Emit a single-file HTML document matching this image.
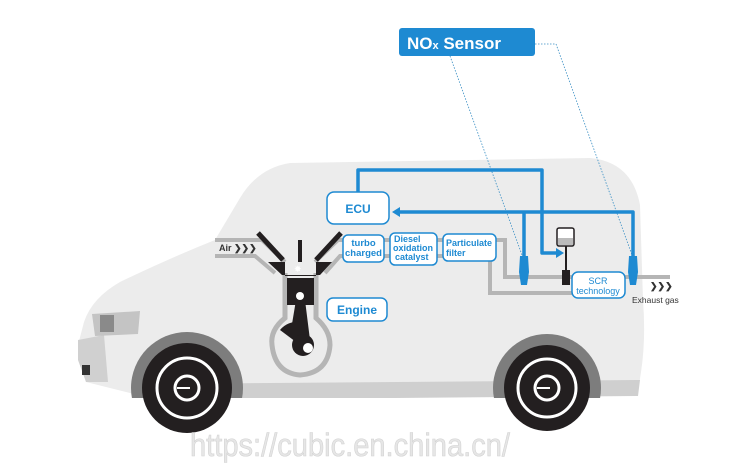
<!DOCTYPE html>
<html><head><meta charset="utf-8"><style>
html,body{margin:0;padding:0;background:#fff;}
svg{display:block;}
text{font-family:"Liberation Sans",sans-serif;}
</style></head><body>
<svg width="750" height="469" viewBox="0 0 750 469" xmlns="http://www.w3.org/2000/svg">
<!-- car body -->
<path d="M86,382 L78,345 L84,322 Q92,298 120,282 Q170,258 215,240 L240,198 Q258,168 290,163 L590,158 Q632,162 640,205 L643,300 Q646,340 641,372 L638,392 L150,398 Z" fill="#ececec"/>
<!-- bottom band -->
<path d="M150,384 L640,380 L638,396 L150,400 Z" fill="#cfcfcf"/>
<!-- bumper -->
<path d="M78,340 L104,335 L108,382 L86,382 L78,360 Z" fill="#d0d0d0"/>
<rect x="82" y="365" width="8" height="10" fill="#333"/>
<!-- headlight -->
<path d="M92,314 L140,311 L138,334 L95,336 Z" fill="#c4c4c4"/>
<rect x="100" y="315" width="14" height="17" fill="#8a8a8a"/>
<!-- wheel arches -->
<circle cx="187" cy="388" r="56" fill="#7d7d7d"/>
<circle cx="547" cy="388" r="54" fill="#7d7d7d"/>
<rect x="110" y="398" width="500" height="71" fill="#fff"/>
<!-- wheels -->
<g>
<circle cx="187" cy="388" r="45" fill="#231f20"/>
<circle cx="187" cy="388" r="30" fill="none" stroke="#fff" stroke-width="3"/>
<circle cx="187" cy="388" r="12" fill="none" stroke="#fff" stroke-width="3"/>
<line x1="177" y1="388" x2="190" y2="388" stroke="#fff" stroke-width="2"/>
<circle cx="547" cy="388" r="43" fill="#231f20"/>
<circle cx="547" cy="388" r="29" fill="none" stroke="#fff" stroke-width="3"/>
<circle cx="547" cy="388" r="12" fill="none" stroke="#fff" stroke-width="3"/>
<line x1="537" y1="388" x2="550" y2="388" stroke="#fff" stroke-width="2"/>
</g>
<!-- watermark -->
<text x="190" y="456" font-size="32" fill="#e6e6e6" stroke="#d2d2d2" stroke-width="0.6" textLength="320" lengthAdjust="spacingAndGlyphs">https://cubic.en.china.cn/</text>
<!-- pipes -->
<g fill="none" stroke="#b5b5b5" stroke-width="4">
<path d="M215,240 L262,240 L285,262"/>
<path d="M215,256 L255,256 L275,273"/>
<path d="M315,262 L338,240 L500,240 L505,240 L505,277 L670,277"/>
<path d="M325,273 L340,256 L490,256 L490,293 L572,293"/>
</g>
<!-- engine -->
<path d="M285,273 L285,318 Q270,330 272,345 Q275,373 300,375 Q328,373 330,345 Q330,330 316,318 L316,273" fill="none" stroke="#b5b5b5" stroke-width="5"/>
<path d="M268,262 L285,262 L285,276 L316,276 L316,262 L332,262 L320,275 L282,275 Z" fill="#231f20"/>
<rect x="287" y="278" width="27" height="27" fill="#231f20"/>
<circle cx="300" cy="296" r="4" fill="#fff"/>
<path d="M296,300 L290,336 L300,340 L310,340 L305,300 Z" fill="#231f20"/>
<path d="M280,330 A22,22 0 0 1 300,322 L300,345 Z" fill="#231f20"/>
<circle cx="303" cy="345" r="11" fill="#231f20"/>
<circle cx="308" cy="348" r="5" fill="#fff"/>
<line x1="258" y1="233" x2="283" y2="260" stroke="#231f20" stroke-width="5"/>
<line x1="341" y1="233" x2="316" y2="260" stroke="#231f20" stroke-width="5"/>
<line x1="300" y1="240" x2="300" y2="262" stroke="#231f20" stroke-width="4"/>
<text x="294" y="272" font-size="9" fill="#fff">✸</text>
<text x="219" y="251" font-size="9" font-weight="bold" fill="#333">Air ❯❯❯</text>
<!-- dotted leaders -->
<g fill="none" stroke="#3a8fc4" stroke-width="0.8" stroke-dasharray="1.5,1.5">
<path d="M450,56 L522,255"/>
<path d="M535,44 L556,44 L632,255"/>
</g>
<!-- blue wires -->
<g fill="none" stroke="#1e8ad2" stroke-width="3.5" stroke-linejoin="round">
<path d="M358,192 L358,170 L542,170 L542,253 L558,253"/>
<path d="M398,212 L633,212 L633,258"/>
<path d="M524,212 L524,258"/>
</g>
<path d="M392,212 L400,207 L400,217 Z" fill="#1e8ad2"/>
<path d="M564,253 L556,248 L556,258 Z" fill="#1e8ad2"/>
<!-- sensors -->
<path d="M520,256 L528,256 L529,272 L527,285 L521,285 L519,272 Z" fill="#1e8ad2"/>
<path d="M629,256 L637,256 L638,272 L636,285 L630,285 L628,272 Z" fill="#1e8ad2"/>
<!-- reagent tank -->
<rect x="557" y="228" width="17" height="18" rx="2" fill="#fff" stroke="#231f20" stroke-width="1.5"/>
<rect x="558" y="238" width="15" height="7" fill="#bbb"/>
<line x1="566" y1="246" x2="566" y2="275" stroke="#231f20" stroke-width="2"/>
<rect x="562" y="270" width="8" height="15" fill="#231f20"/>
<!-- boxes -->
<g fill="#fff" stroke="#1e8ad2" stroke-width="1.5">
<rect x="327" y="192" width="62" height="32" rx="7"/>
<rect x="343" y="235" width="41" height="27" rx="5"/>
<rect x="390" y="233" width="47" height="32" rx="5"/>
<rect x="443" y="234" width="53" height="27" rx="5"/>
<rect x="327" y="298" width="60" height="23" rx="6"/>
<rect x="572" y="272" width="53" height="26" rx="6"/>
</g>
<g fill="#1e8ad2" font-weight="bold">
<text x="358" y="213" font-size="12" text-anchor="middle">ECU</text>
<text x="363.5" y="246" font-size="9.5" text-anchor="middle">turbo</text>
<text x="363.5" y="256" font-size="9.5" text-anchor="middle">charged</text>
<text x="394" y="242" font-size="9">Diesel</text>
<text x="393" y="251" font-size="9">oxidation</text>
<text x="395" y="260" font-size="9">catalyst</text>
<text x="446" y="246" font-size="9">Particulate</text>
<text x="446" y="256" font-size="9">filter</text>
<text x="357" y="314" font-size="12" text-anchor="middle">Engine</text>
<text x="598" y="284" font-size="9" text-anchor="middle" font-weight="normal">SCR</text>
<text x="598" y="294" font-size="9" text-anchor="middle" font-weight="normal">technology</text>
</g>
<text x="650" y="289" font-size="9" font-weight="bold" fill="#333">❯❯❯</text>
<text x="632" y="303" font-size="8.5" fill="#333">Exhaust gas</text>
<!-- NOx sensor label -->
<rect x="399" y="28" width="136" height="28" rx="3" fill="#1e8ad2"/>
<text x="407" y="49" font-size="17" font-weight="bold" fill="#fff">NO<tspan font-size="11">x</tspan> Sensor</text>
</svg>
</body></html>
